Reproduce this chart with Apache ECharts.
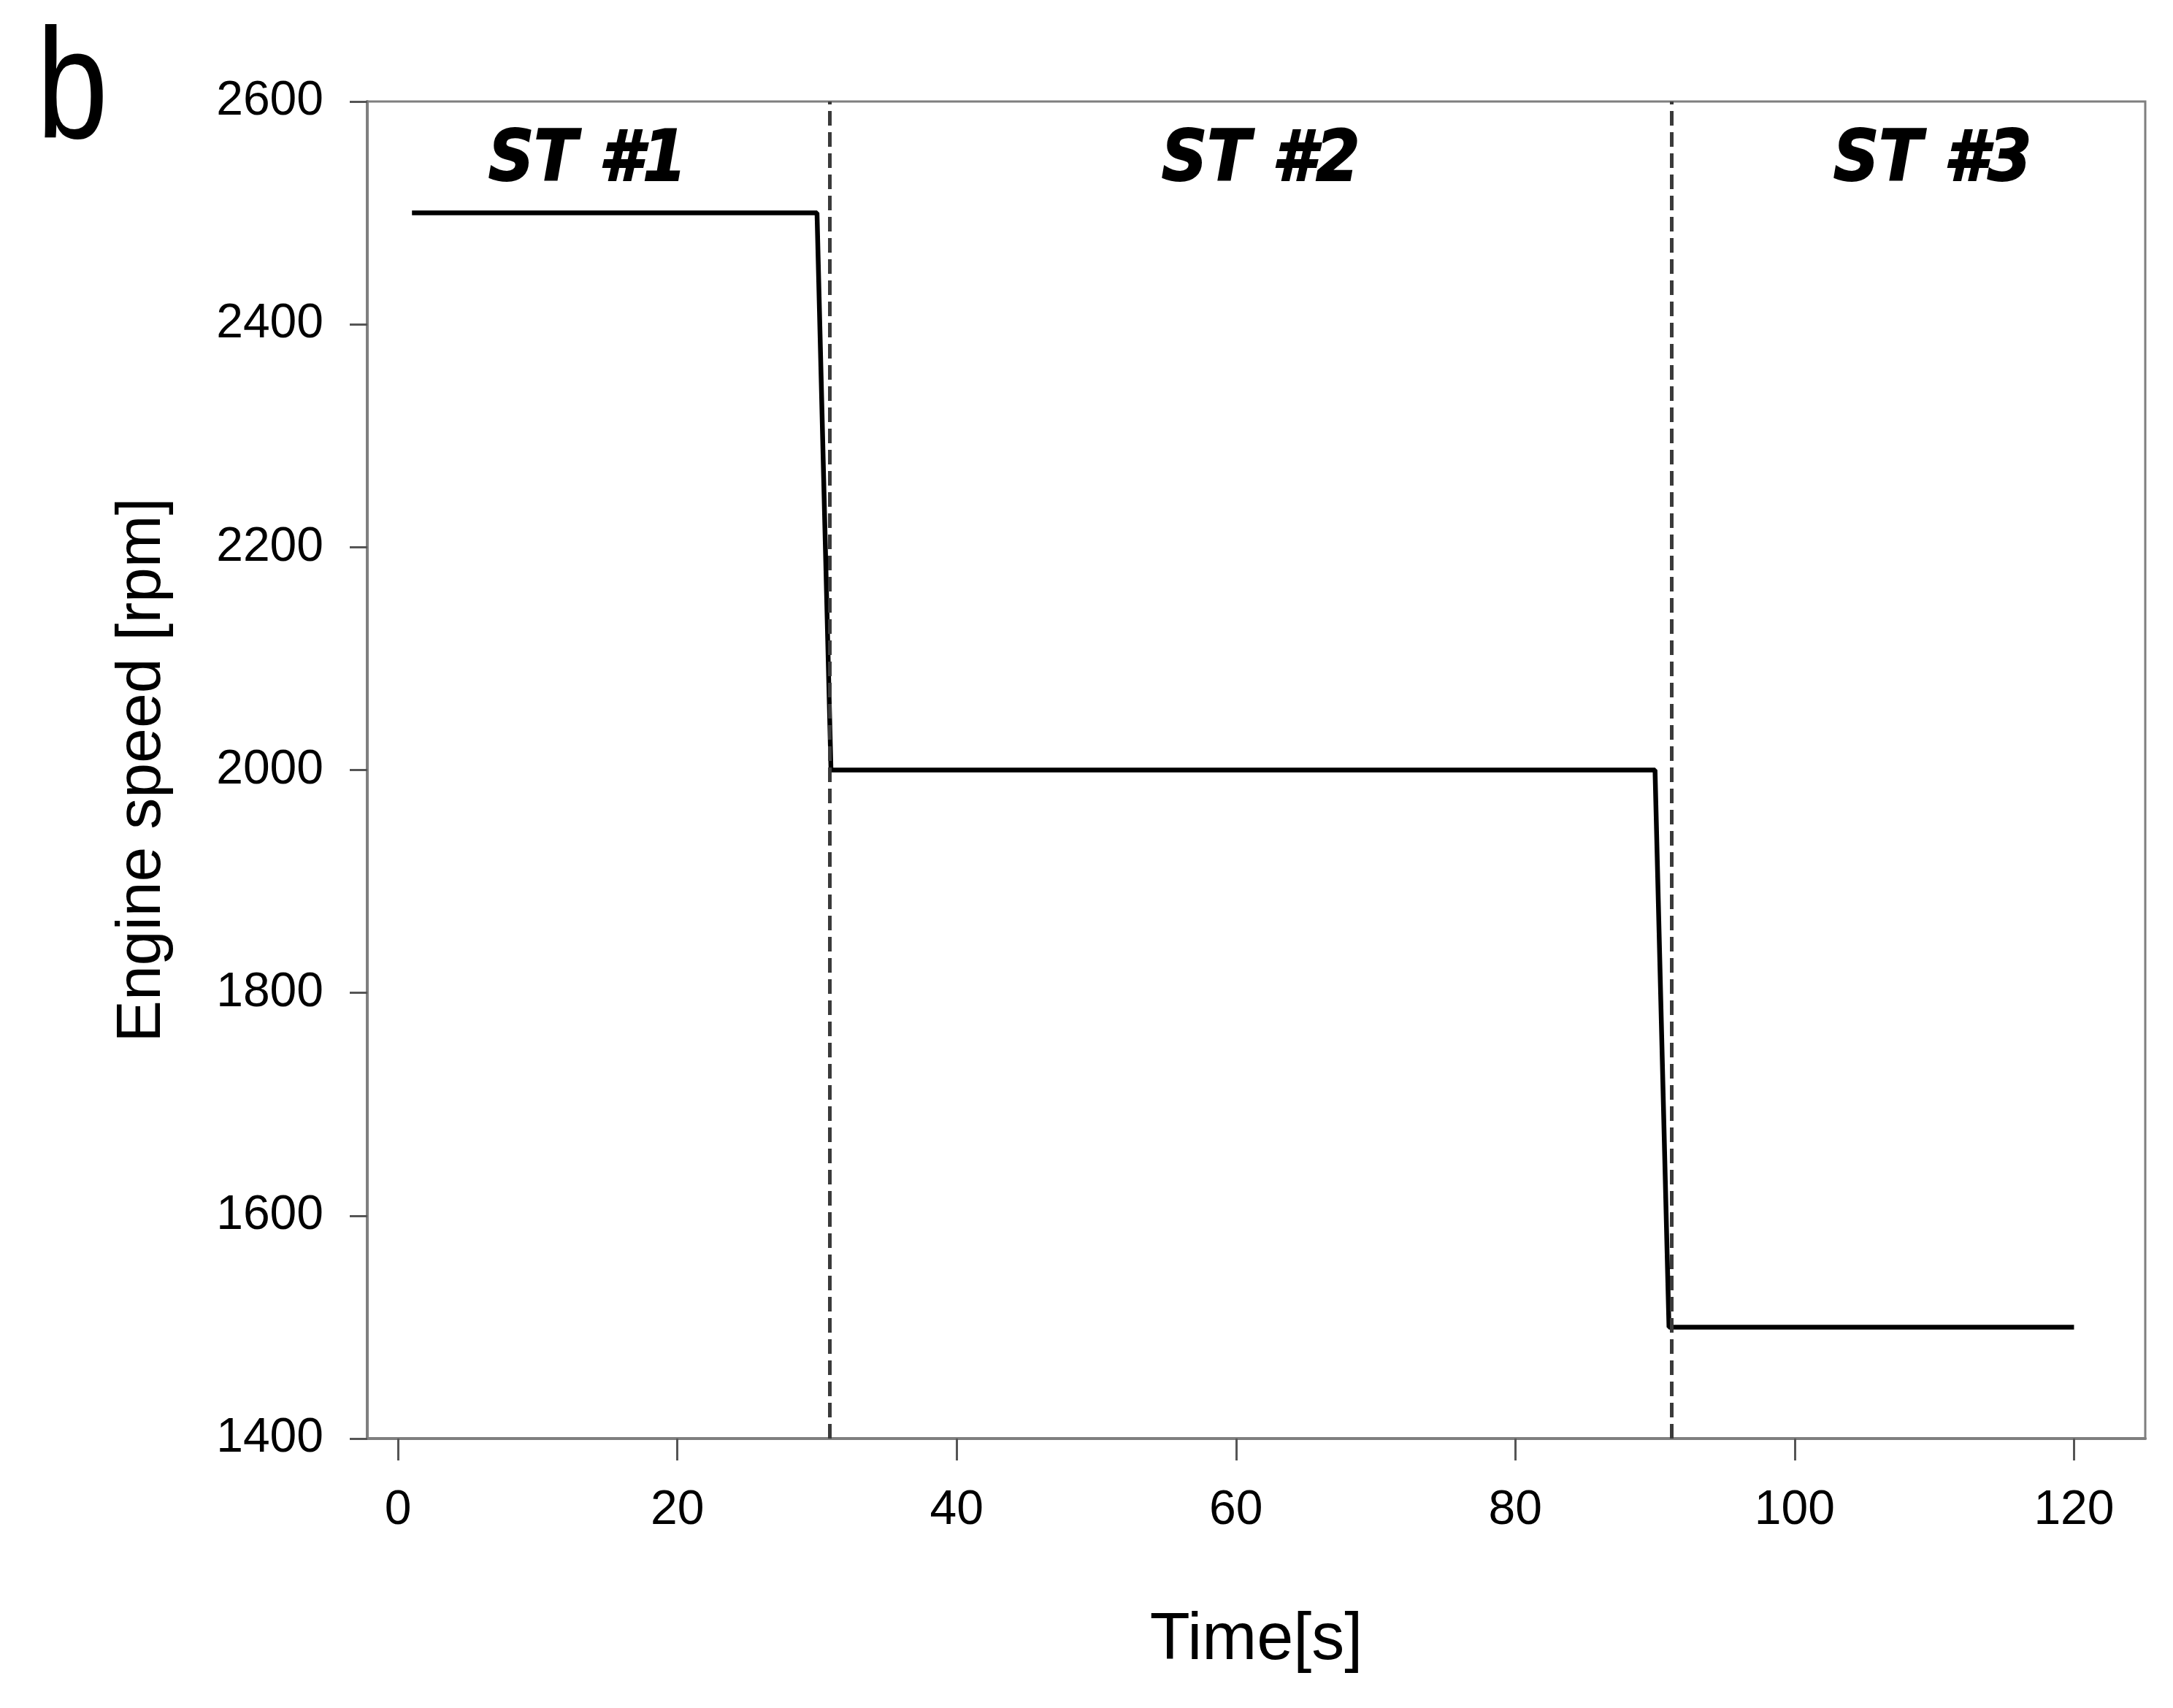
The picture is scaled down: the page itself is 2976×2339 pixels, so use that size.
<!DOCTYPE html>
<html>
<head>
<meta charset="utf-8">
<script src="https://cdn.jsdelivr.net/npm/echarts@6/dist/echarts.min.js"></script>
<style>
  html, body { margin: 0; padding: 0; background: #fff; }
  #chart { width: 2976px; height: 2339px; }
</style>
</head>
<body>
<div id="chart"></div>
<script>
// ---- data ----
const timeS = [1, 30, 31, 90, 91, 120];
const engineSpeed = [2500, 2500, 2000, 2000, 1500, 1500];
const stageBounds = [30.9, 91.2];
const stageNames = ['ST #1', 'ST #2', 'ST #3'];
const stageLabelX = [13.6, 61.8, 109.9];
const stageLabelY = [2545, 2545, 2545];
const xTickValues = [0, 20, 40, 60, 80, 100, 120];
const yTickValues = [1400, 1600, 1800, 2000, 2200, 2400, 2600];

const FONT = "'Liberation Sans', Arial, sans-serif";
const AXIS_GRAY = '#7f7f7f';

const chart = echarts.init(document.getElementById('chart'), null, { renderer: 'canvas' });

const lineData = timeS.map((t, i) => [t, engineSpeed[i]]);
const labelData = stageNames.map((n, i) => ({ name: n, value: [stageLabelX[i], stageLabelY[i]] }));

chart.setOption({
  animation: false,
  backgroundColor: '#ffffff',
  grid: {
    left: 503, right: 38, top: 139, bottom: 369,
    show: true, borderColor: AXIS_GRAY, borderWidth: 3, backgroundColor: 'transparent'
  },
  graphic: [{
    type: 'text',
    x: 50, y: 22,
    scaleX: 0.82,
    style: { text: 'b', fontSize: 215, fontFamily: FONT, fill: '#000' }
  }],
  xAxis: {
    type: 'value',
    min: -2.2, max: 125.1,
    name: 'Time[s]',
    nameLocation: 'middle',
    nameGap: 232,
    nameTextStyle: { fontSize: 90, fontFamily: FONT, color: '#000' },
    axisLine: { show: true, onZero: false, lineStyle: { color: AXIS_GRAY, width: 4 } },
    axisTick: { show: true, inside: false, length: 30, customValues: xTickValues, lineStyle: { color: '#555', width: 3 } },
    axisLabel: { show: true, customValues: xTickValues, margin: 66, fontSize: 66, fontFamily: FONT, color: '#000' },
    splitLine: { show: false }
  },
  yAxis: {
    type: 'value',
    min: 1400, max: 2600, interval: 200,
    name: 'Engine speed [rpm]',
    nameLocation: 'middle',
    nameGap: 265,
    nameRotate: 90,
    nameTextStyle: { fontSize: 86, fontFamily: FONT, color: '#000' },
    axisLine: { show: true, onZero: false, lineStyle: { color: AXIS_GRAY, width: 4 } },
    axisTick: { show: true, inside: false, length: 24, lineStyle: { color: '#555', width: 3 } },
    axisLabel: { show: true, margin: 60, fontSize: 66, fontFamily: FONT, color: '#000', formatter: v => String(v) },
    splitLine: { show: false }
  },
  series: [
    {
      type: 'line',
      data: lineData,
      showSymbol: false,
      symbol: 'none',
      lineStyle: { color: '#000', width: 6.5 },
      z: 3,
      markLine: {
        silent: true,
        symbol: ['none', 'none'],
        label: { show: false },
        lineStyle: { color: '#3a3a3a', width: 5, type: [20, 9] },
        data: stageBounds.map(v => ({ xAxis: v }))
      }
    },
    {
      type: 'scatter',
      data: labelData,
      symbolSize: 1,
      silent: true,
      itemStyle: { color: 'rgba(0,0,0,0)' },
      label: {
        show: true,
        position: [0, 0],
        align: 'center',
        verticalAlign: 'middle',
        formatter: p => p.name,
        fontFamily: "'DejaVu Sans Condensed', 'DejaVu Sans', sans-serif",
        fontWeight: 'bold',
        fontStyle: 'italic',
        fontSize: 96,
        color: '#000000',
        opacity: 1,
        textBorderColor: '#000000',
        textBorderWidth: 2
      }
    }
  ]
});
</script>
</body>
</html>
